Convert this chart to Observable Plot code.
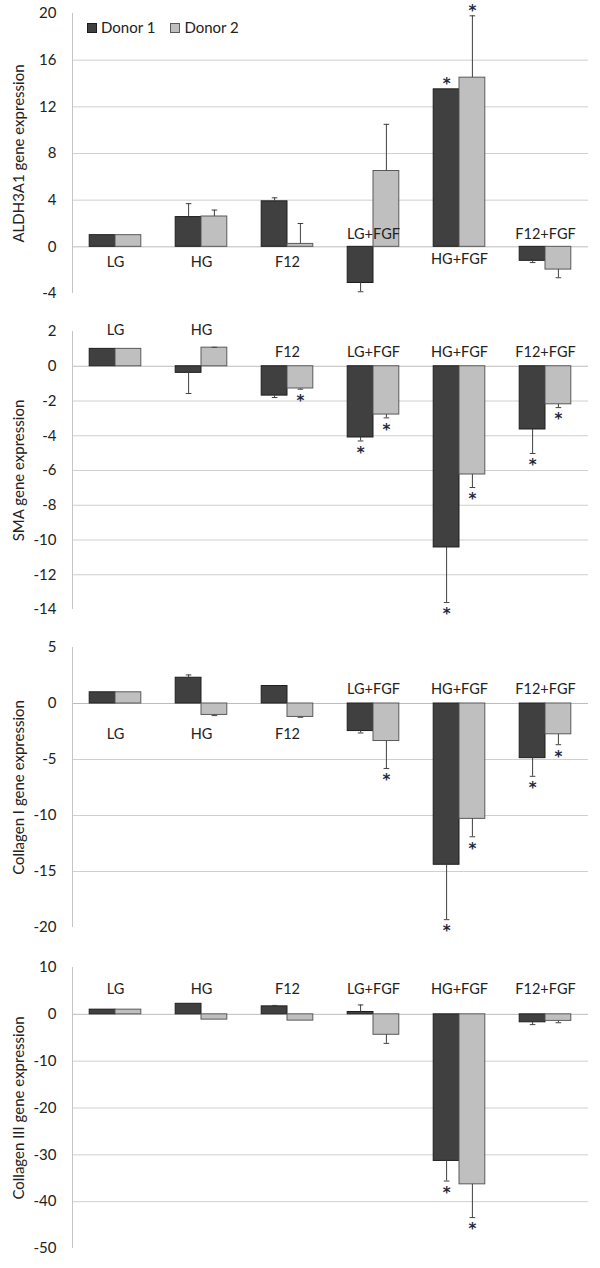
<!DOCTYPE html>
<html>
<head>
<meta charset="utf-8">
<script src="https://cdn.jsdelivr.net/npm/d3@7"></script>
<script src="https://cdn.jsdelivr.net/npm/@observablehq/plot@0.6"></script>
<style>
  body { margin: 0; background: #fff; font-family: Lato, "Open Sans", sans-serif; }
  #wrap { position: relative; width: 600px; height: 1268px; overflow: hidden; }
  #legend { position: absolute; left: 87px; top: 18px; display: flex; align-items: center; font-size: 15px; color: #222; line-height: 19px; }
  #legend .item { display: flex; align-items: center; margin-right: 15px; }
  #legend .sw { width: 8px; height: 8px; margin-right: 4px; }
  #charts svg { display: block; }
</style>
</head>
<body>
<div id="wrap">
  <div id="charts"></div>
  <div id="legend"></div>
</div>
<script>
// ---------- data ----------
const categories = ["LG", "HG", "F12", "LG+FGF", "HG+FGF", "F12+FGF"];
const donors = ["Donor 1", "Donor 2"];

// Panel 1: ALDH3A1
const aldhTitle = "ALDH3A1 gene expression";
const aldhDonor1 = [1.0, 2.55, 3.9, -3.1, 13.5, -1.2];
const aldhDonor2 = [1.0, 2.6, 0.25, 6.5, 14.5, -1.95];
const aldhErr1 = [0, 1.15, 0.3, 0.75, 0, 0.15];
const aldhErr2 = [0, 0.55, 1.75, 4.0, 5.3, 0.7];
const aldhSig1 = [false, false, false, false, true, false];
const aldhSig2 = [false, false, false, false, true, false];
const aldhTicks = [-4, 0, 4, 8, 12, 16, 20];
const aldhLabelY = [-1.29, -1.29, -1.29, 1.06, -1.09, 1.06];

// Panel 2: SMA
const smaTitle = "SMA gene expression";
const smaDonor1 = [1.0, -0.38, -1.69, -4.1, -10.43, -3.64];
const smaDonor2 = [1.0, 1.07, -1.28, -2.78, -6.23, -2.19];
const smaErr1 = [0, 1.19, 0.11, 0.2, 3.17, 1.38];
const smaErr2 = [0, 0.02, 0.04, 0.19, 0.75, 0.19];
const smaSig1 = [false, false, false, true, true, true];
const smaSig2 = [false, false, true, true, true, true];
const smaTicks = [-14, -12, -10, -8, -6, -4, -2, 0, 2];
const smaLabelY = [2.07, 2.07, 0.82, 0.82, 0.82, 0.82];

// Panel 3: Collagen I
const col1Title = "Collagen I gene expression";
const col1Donor1 = [1.0, 2.3, 1.56, -2.46, -14.4, -4.88];
const col1Donor2 = [1.0, -1.02, -1.2, -3.35, -10.3, -2.75];
const col1Err1 = [0, 0.25, 0, 0.17, 4.9, 1.62];
const col1Err2 = [0, 0.06, 0.03, 2.45, 1.6, 0.93];
const col1Sig1 = [false, false, false, false, true, true];
const col1Sig2 = [false, false, false, true, true, true];
const col1Ticks = [-20, -15, -10, -5, 0, 5];
const col1LabelY = [-2.72, -2.72, -2.72, 1.26, 1.26, 1.26];

// Panel 4: Collagen III
const col3Title = "Collagen III gene expression";
const col3Donor1 = [1.0, 2.25, 1.7, 0.5, -31.3, -1.7];
const col3Donor2 = [1.0, -1.13, -1.34, -4.37, -36.3, -1.4];
const col3Err1 = [0, 0, 0.2, 1.5, 4.3, 0.5];
const col3Err2 = [0, 0, 0, 1.83, 7.1, 0.4];
const col3Sig1 = [false, false, false, false, true, false];
const col3Sig2 = [false, false, false, false, true, false];
const col3Ticks = [-50, -40, -30, -20, -10, 0, 10];
const col3LabelY = [5.42, 5.42, 5.42, 5.42, 5.42, 5.42];

// ---------- styling / layout ----------
const donorFill = ["#404040", "#bfbfbf"];
const donorStroke = ["#1e1e1e", "#5a5a5a"];
const BAR = 0.3; // bar width in category units
const layouts = [
  {height: 320, marginTop: 13, marginBottom: 27},
  {height: 320, marginTop: 11, marginBottom: 31},
  {height: 320, marginTop: 7, marginBottom: 33},
  {height: 308, marginTop: 7, marginBottom: 20}
];

const panels = [
  {title: aldhTitle, d: [aldhDonor1, aldhDonor2], e: [aldhErr1, aldhErr2], s: [aldhSig1, aldhSig2], ticks: aldhTicks, labelY: aldhLabelY},
  {title: smaTitle, d: [smaDonor1, smaDonor2], e: [smaErr1, smaErr2], s: [smaSig1, smaSig2], ticks: smaTicks, labelY: smaLabelY},
  {title: col1Title, d: [col1Donor1, col1Donor2], e: [col1Err1, col1Err2], s: [col1Sig1, col1Sig2], ticks: col1Ticks, labelY: col1LabelY},
  {title: col3Title, d: [col3Donor1, col3Donor2], e: [col3Err1, col3Err2], s: [col3Sig1, col3Sig2], ticks: col3Ticks, labelY: col3LabelY}
];

const capSymbol = {
  draw(context, size) {
    const r = Math.sqrt(size / Math.PI);
    context.moveTo(-r, 0);
    context.lineTo(r, 0);
  }
};

const xDomain = [-0.5, categories.length - 0.5];

function makePanel(p, lay) {
  const rows = [];
  categories.forEach((c, i) => {
    donors.forEach((dn, k) => {
      const v = p.d[k][i];
      const err = p.e[k][i];
      const sign = v < 0 ? -1 : 1;
      rows.push({i, k, cat: c, v, err, end: v + sign * err, sig: p.s[k][i], sign});
    });
  });
  const x1 = d => d.k === 0 ? d.i - BAR : d.i;
  const x2 = d => d.k === 0 ? d.i : d.i + BAR;
  const xc = d => d.k === 0 ? d.i - BAR / 2 : d.i + BAR / 2;
  const yDomain = [p.ticks[0], p.ticks[p.ticks.length - 1]];
  const grid = p.ticks.filter(t => t !== yDomain[0] && t !== yDomain[1] && t !== 0);
  const withErr = rows.filter(d => d.err > 0);
  const starPos = rows.filter(d => d.sig && d.sign > 0);
  const starNeg = rows.filter(d => d.sig && d.sign < 0);
  const starStyle = {fontFamily: "'DejaVu Sans', sans-serif", fontSize: 15, fontWeight: "bold", fill: "#1f2a40"};

  return Plot.plot({
    width: 600,
    height: lay.height,
    marginTop: lay.marginTop,
    marginBottom: lay.marginBottom,
    marginLeft: 72,
    marginRight: 12,
    style: {fontFamily: "Lato, 'Open Sans', sans-serif", fontSize: "15px", color: "#222", background: "#fff", overflow: "visible"},
    x: {domain: xDomain, axis: null},
    y: {domain: yDomain, ticks: p.ticks, tickSize: 0, tickPadding: 16, tickFormat: d => `${d}`, label: null},
    marks: [
      Plot.ruleY(grid, {stroke: "#cfcfcf", strokeWidth: 1}),
      Plot.ruleY([0], {stroke: "#bdbdbd", strokeWidth: 1}),
      Plot.ruleX([xDomain[0]], {y1: yDomain[0], y2: yDomain[1], stroke: "#c4c4c4", strokeWidth: 1}),
      Plot.rectY(rows, {x1, x2, y1: 0, y2: "v", fill: d => donorFill[d.k], stroke: d => donorStroke[d.k], strokeWidth: 1}),
      Plot.ruleX(withErr, {x: xc, y1: "v", y2: "end", stroke: "#404040", strokeWidth: 1}),
      Plot.dot(withErr, {x: xc, y: "end", symbol: capSymbol, r: 2.8, fill: "none", stroke: "#404040", strokeWidth: 1}),
      Plot.text(starPos, {x: xc, y: "end", text: () => "*", ...starStyle, dy: -5}),
      Plot.text(starNeg, {x: xc, y: "end", text: () => "*", ...starStyle, dy: 12}),
      Plot.text(categories, {x: (d, i) => i, y: (d, i) => p.labelY[i], text: d => d, fontSize: 14.5, fill: "#222"}),
      Plot.text([p.title], {frameAnchor: "left", textAnchor: "middle", lineAnchor: "middle", rotate: -90, dx: -53, text: d => d, fontSize: 15, fill: "#222"})
    ]
  });
}

const charts = document.getElementById("charts");
panels.forEach((p, idx) => charts.appendChild(makePanel(p, layouts[idx])));

// legend
const legend = document.getElementById("legend");
donors.forEach((dn, k) => {
  const item = document.createElement("div");
  item.className = "item";
  const sw = document.createElement("span");
  sw.className = "sw";
  sw.style.background = donorFill[k];
  sw.style.border = "1px solid " + donorStroke[k];
  const tx = document.createElement("span");
  tx.textContent = dn;
  item.appendChild(sw);
  item.appendChild(tx);
  legend.appendChild(item);
});
</script>
</body>
</html>
